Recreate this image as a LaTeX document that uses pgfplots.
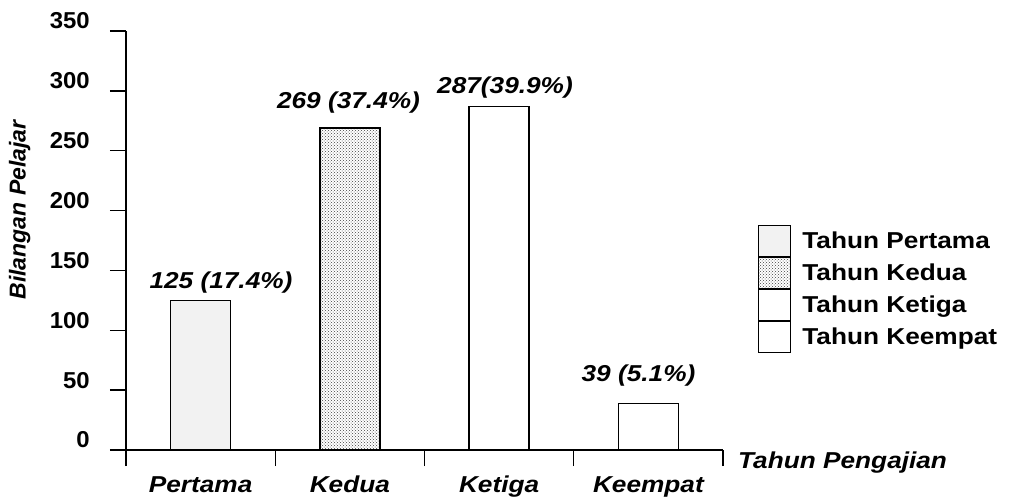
\documentclass[border=0pt]{standalone}
\usepackage{fontspec}
\setmainfont{Liberation Sans}[FakeStretch=1.14]
\newfontfamily\ylabfont{Liberation Sans}
\newfontfamily\ticfont{Liberation Sans}[FakeStretch=1.04]
\usepackage{pgfplots}
\pgfplotsset{compat=1.18}
\usetikzlibrary{patterns}
\newcommand\bigf{\fontsize{23}{27}\selectfont}
\newcommand\ylf{\fontsize{23}{27}\selectfont}
\begin{document}
\begin{tikzpicture}
\begin{axis}[
  scale only axis, width=597pt, height=419pt, clip=false,
  xmin=-0.5, xmax=3.5, ymin=0, ymax=350,
  axis lines=left, axis line style={-, line width=1.6pt},
  ytick={0,50,...,350},
  xtick={-0.5,0.5,1.5,2.5,3.5},
  x tick label as interval,
  xticklabels={Pertama,Kedua,Ketiga,Keempat},
  tick align=outside, major tick length=16pt,
  tick style={line width=1.4pt, black},
  /pgf/number format/assume math mode=true,
  yticklabel style={font=\ticfont\bfseries\bigf, anchor=east, inner sep=0pt, xshift=-20pt, yshift=10pt},
  xticklabel style={font=\bfseries\itshape\bigf, anchor=north, inner sep=0pt, yshift=-10pt},
  xlabel={Tahun Pengajian},
  xlabel style={font=\bfseries\itshape\bigf, at={(axis description cs:1.0251,-0.0453)}, anchor=base west, inner sep=0pt},
  legend style={at={(axis description cs:1.0586,0.537)}, anchor=north west, draw=none, fill=none, inner sep=0pt, outer sep=0pt, row sep=0pt, column sep=11pt, nodes={inner sep=0pt, font=\bfseries\bigf}},
  legend cell align=left,
  legend image code/.code={\draw[#1, line width=1.4pt] (0pt,-15pt) rectangle (32pt,15.6pt);},
]
\addplot[ybar, bar width=60pt, bar shift=0pt, draw=black, line width=1.6pt, fill=gray!10] coordinates {(0,125)};
\addplot[ybar, bar width=60pt, bar shift=0pt, draw=black, line width=1.6pt, pattern=crosshatch dots, pattern color=black!75] coordinates {(1,269)};
\addplot[ybar, bar width=60pt, bar shift=0pt, draw=black, line width=1.6pt, fill=white] coordinates {(2,287)};
\addplot[ybar, bar width=60pt, bar shift=0pt, draw=black, line width=1.6pt, fill=white] coordinates {(3,39)};
\legend{Tahun Pertama, Tahun Kedua, Tahun Ketiga, Tahun Keempat}
\node[anchor=base, font=\bfseries\itshape\bigf, inner sep=0pt] at (axis cs:0.1365,134.5) {125 (17.4\%)};
\node[anchor=base, font=\bfseries\itshape\bigf, inner sep=0pt] at (axis cs:0.9908,284.9) {269 (37.4\%)};
\node[anchor=base, font=\bfseries\itshape\bigf, inner sep=0pt] at (axis cs:2.0394,297.4) {287(39.9\%)};
\node[anchor=base, font=\bfseries\itshape\bigf, inner sep=0pt] at (axis cs:2.9338,57.6) {39 (5.1\%)};
\node[rotate=90, anchor=center, inner sep=0pt, font=\ylabfont\bfseries\itshape\ylf] at (axis description cs:-0.178,0.573) {Bilangan Pelajar};
\coordinate (bl) at (rel axis cs:0,0);
\end{axis}
\pgfresetboundingbox
\path[use as bounding box] ([shift={(-126pt,-51pt)}]bl) rectangle ([shift={(885pt,450pt)}]bl);
\end{tikzpicture}
\end{document}
